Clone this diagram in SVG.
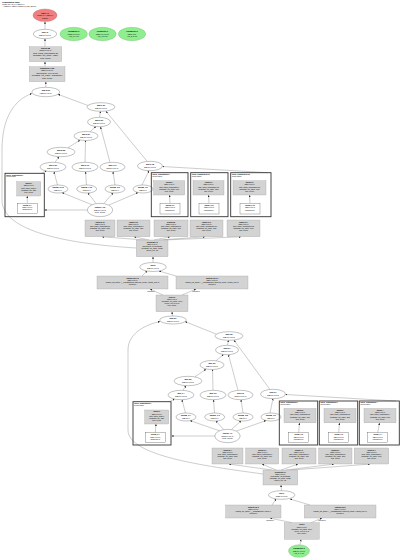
<svg xmlns="http://www.w3.org/2000/svg" width="400" height="559" viewBox="0 0 400 559">
<defs>
<marker id="ah" viewBox="0 0 10 10" refX="10" refY="5" markerWidth="2" markerHeight="2" markerUnits="userSpaceOnUse" orient="auto"><path d="M0,0L10,5L0,10z" fill="#222"/></marker>
<style>
text{font-family:"Liberation Sans",Arial,sans-serif;font-size:2px;text-anchor:middle;fill:#000}
.bd{font-weight:bold}
.st{text-anchor:start}
.sm{font-size:1.7px}
.n{fill:#fff;stroke:#333;stroke-width:0.3}
.g{fill:#d3d3d3;stroke:#999;stroke-width:0.3}
.red{fill:#f08080;stroke:#a55;stroke-width:0.3}
.grn{fill:#90ee90;stroke:#5a5;stroke-width:0.3}
.cl{fill:none;stroke:#333;stroke-width:0.9}
.e path,.e line{fill:none;stroke:#555;stroke-width:0.3;marker-end:url(#ah)}
.e .nm{marker-end:none}
</style>
</defs>
<g id="header">
<text x="2" y="2.6" class="st bd">Computation main</text>
<text x="2" y="4.6" class="st sm">%main.42 (Arg_0.1: f32[8,64])</text>
<text x="2" y="6.6" class="st sm">-&gt; (f32[8,64], f32[64]) module jit_train_step.17</text>
</g>
<g class="e" id="edges">
<line x1="45" y1="29.3" x2="45" y2="21.7"/>
<line x1="45" y1="46.7" x2="45" y2="38.8"/>
<line x1="45" y1="66.7" x2="45" y2="61.8"/>
<line x1="45.8" y1="87.3" x2="45.8" y2="81.8"/>
<line x1="88" y1="105.5" x2="58" y2="94.3"/>
<line x1="99.5" y1="117.3" x2="100.5" y2="111.4"/>
<line x1="90" y1="131.8" x2="96" y2="126.5"/>
<line x1="68" y1="147.7" x2="80" y2="140.2"/>
<line x1="55" y1="162.3" x2="59" y2="156.8"/>
<line x1="85" y1="162.3" x2="85.5" y2="140.5"/>
<line x1="110" y1="162.4" x2="100.5" y2="126.8"/>
<line x1="147" y1="161.2" x2="106" y2="111.3"/>
<line x1="57.5" y1="185" x2="54" y2="171.7"/>
<line x1="86.5" y1="185" x2="85.5" y2="171.7"/>
<line x1="115" y1="185" x2="113" y2="171.7"/>
<line x1="142" y1="185" x2="149" y2="170.7"/>
<line x1="92" y1="204.8" x2="62" y2="192.6"/>
<line x1="96" y1="203.4" x2="88" y2="193"/>
<line x1="104" y1="203.4" x2="113" y2="193"/>
<line x1="109" y1="205" x2="138" y2="192.6"/>
<line x1="87.3" y1="210" x2="44.5" y2="210"/>
<line x1="41.7" y1="173.3" x2="46.5" y2="170.8"/>
<line x1="268" y1="172.7" x2="162.5" y2="166.5"/>
<line x1="27.3" y1="203.3" x2="27.3" y2="196.1"/>
<line x1="170" y1="203.3" x2="169.5" y2="195.1"/>
<line x1="209" y1="203.3" x2="208.5" y2="195.1"/>
<line x1="250" y1="203.3" x2="249.5" y2="195.1"/>
<line x1="145" y1="240" x2="102" y2="236.8"/>
<line x1="149" y1="240" x2="134" y2="236.8"/>
<line x1="154" y1="240" x2="170" y2="236.8"/>
<line x1="159" y1="240" x2="205" y2="236.8"/>
<line x1="164" y1="240" x2="241" y2="236.8"/>
<line x1="153" y1="262.5" x2="153" y2="256.8"/>
<line x1="142" y1="276" x2="147" y2="271"/>
<line x1="176" y1="276" x2="159" y2="271"/>
<line x1="163" y1="295" x2="150" y2="289.1"/>
<line x1="182" y1="295" x2="196" y2="289.1"/>
<line x1="172.5" y1="316" x2="172" y2="311.8"/>
<path d="M136.3,248 C70,244 2,232 2,200 L2,150 C2,118 14,100 31.8,93.5"/>
<line x1="216" y1="334" x2="185" y2="321.6"/>
<line x1="227.5" y1="345.3" x2="228.5" y2="340.3"/>
<line x1="216" y1="360.8" x2="223.5" y2="354.5"/>
<line x1="195" y1="376.7" x2="206" y2="369.3"/>
<line x1="183" y1="390.3" x2="186" y2="385.7"/>
<line x1="213" y1="390.3" x2="212.5" y2="369.5"/>
<line x1="238" y1="390.3" x2="228.5" y2="354.7"/>
<line x1="270" y1="389.5" x2="234" y2="340.2"/>
<line x1="185.5" y1="413" x2="182" y2="399.7"/>
<line x1="214.5" y1="413" x2="213.5" y2="399.7"/>
<line x1="243" y1="413" x2="241" y2="399.7"/>
<line x1="270" y1="413" x2="273" y2="398.5"/>
<line x1="219.5" y1="430.8" x2="190" y2="420.6"/>
<line x1="223.5" y1="429.4" x2="216" y2="421"/>
<line x1="231.5" y1="429.4" x2="241" y2="421"/>
<line x1="236.5" y1="431" x2="266" y2="420.6"/>
<line x1="214.8" y1="436" x2="171.5" y2="436"/>
<line x1="169.7" y1="401.7" x2="174.5" y2="398.8"/>
<line x1="396" y1="401" x2="285.5" y2="394.5"/>
<line x1="155.3" y1="432.7" x2="156" y2="424.1"/>
<line x1="298.7" y1="432.7" x2="299.5" y2="422.9"/>
<line x1="338.7" y1="432.7" x2="339.5" y2="422.9"/>
<line x1="377.7" y1="432.7" x2="379.5" y2="422.9"/>
<line x1="272" y1="470" x2="229" y2="464.1"/>
<line x1="276" y1="470" x2="262" y2="464.1"/>
<line x1="281" y1="470" x2="298" y2="464.1"/>
<line x1="286" y1="470" x2="334" y2="464.1"/>
<line x1="291" y1="470" x2="370" y2="464.1"/>
<line x1="281.5" y1="490.7" x2="281" y2="485.1"/>
<line x1="272" y1="505" x2="276" y2="499"/>
<line x1="310" y1="505" x2="290" y2="499"/>
<line x1="292" y1="522.7" x2="270" y2="518.1"/>
<line x1="311" y1="522.7" x2="322" y2="518.1"/>
<line x1="300" y1="544.7" x2="301" y2="539.4"/>
<path d="M263,474 C205,466 128,456 128,430 L128,350 C128,334 144,325 160,321.5"/>
</g>
<g class="e-labels">
<text x="151" y="291.6" class="sm">operand 0</text>
<text x="196" y="291.6" class="sm">operand 1</text>
<text x="270" y="520.6" class="sm">operand 0</text>
<text x="322" y="520.6" class="sm">operand 1</text>
</g>
<g id="node-root">
<ellipse cx="45" cy="15.3" rx="12" ry="6.3" class="red"/>
<text x="45" y="13.8" class="bd">tuple.41</text>
<text x="45" y="16.2">(f32[8,64], f32[64])</text>
<text x="45" y="18.6">ROOT</text>
</g>
<g id="node-gte">
<ellipse cx="45" cy="34" rx="11.7" ry="4.7" class="n"/>
<text x="45" y="33.4" class="bd">add.40</text>
<text x="45" y="35.8">f32[8,64]{1,0}</text>
</g>
<g id="node-p0">
<ellipse cx="73.7" cy="34" rx="13.7" ry="6.7" class="grn"/>
<text x="73.7" y="32.3" class="bd">Parameter 0</text>
<text x="73.7" y="34.7">f32[8,64]{1,0}</text>
<text x="73.7" y="37.1">Arg_0.1 (in)</text>
</g>
<g id="node-p1">
<ellipse cx="102.5" cy="34" rx="13.7" ry="6.7" class="grn"/>
<text x="102.5" y="32.3" class="bd">Parameter 1</text>
<text x="102.5" y="34.7">f32[64,64]{1,0}</text>
<text x="102.5" y="37.1">Arg_1.2 (in)</text>
</g>
<g id="node-p2">
<ellipse cx="132" cy="34" rx="13.7" ry="6.7" class="grn"/>
<text x="132" y="32.3" class="bd">Parameter 2</text>
<text x="132" y="34.7">f32[64]{0}</text>
<text x="132" y="37.1">Arg_2.3 (in)</text>
</g>
<g id="node-b1">
<rect x="29.3" y="46.7" width="32.4" height="15" class="g"/>
<text x="45.5" y="49" class="bd">fusion.38</text>
<text x="45.5" y="51.4">f32[8,64]{1,0}</text>
<text x="45.5" y="53.8">calls=fused_computation.38</text>
<text x="45.5" y="56.2">metadata={op_name="add"}</text>
<text x="45.5" y="58.6">kind=kLoop</text>
</g>
<g id="node-b2">
<rect x="29.3" y="66.7" width="35.7" height="15" class="g"/>
<text x="47.1" y="69" class="bd">transpose.1.35</text>
<text x="47.1" y="71.4">f32[8,64]{1,0}</text>
<text x="47.1" y="73.8">dimensions={1,0} layout</text>
<text x="47.1" y="76.2">metadata={op_name="transpose"}</text>
<text x="47.1" y="78.6">kind=kLoop</text>
</g>
<g id="node-e1"><ellipse cx="45.8" cy="92" rx="14" ry="4.7" class="n"/><text x="45.8" y="91.4" class="bd">add.2.33</text><text x="45.8" y="93.8">f32[8,64]{1,0}</text></g>
<g id="node-e2"><ellipse cx="101" cy="107" rx="14" ry="4.3" class="n"/><text x="101" y="106.4" class="bd">add.1.31</text><text x="101" y="108.8">f32[8,64]{1,0}</text></g>
<g id="node-e3"><ellipse cx="99" cy="122" rx="11.5" ry="4.7" class="n"/><text x="99" y="121.4" class="bd">add.0.29</text><text x="99" y="123.8">f32[8,64]{1,0}</text></g>
<g id="node-e4"><ellipse cx="86" cy="136" rx="12" ry="4.5" class="n"/><text x="86" y="135.4" class="bd">mul.3.27</text><text x="86" y="137.8">f32[8,64]{1,0}</text></g>
<g id="node-e5"><ellipse cx="61" cy="152" rx="14" ry="4.7" class="n"/><text x="61" y="151.4" class="bd">mul.2.25</text><text x="61" y="153.8">f32[8,64]{1,0}</text></g>
<g id="node-a1"><ellipse cx="53" cy="167" rx="13" ry="4.7" class="n"/><text x="53" y="166.4" class="bd">mul.1.21</text><text x="53" y="168.8">f32[8,64]{1,0}</text></g>
<g id="node-a2"><ellipse cx="85" cy="167" rx="13" ry="4.7" class="n"/><text x="85" y="166.4" class="bd">mul.0.19</text><text x="85" y="168.8">f32[8,64]{1,0}</text></g>
<g id="node-a3"><ellipse cx="112.5" cy="167" rx="12.5" ry="4.7" class="n"/><text x="112.5" y="166.4" class="bd">sub.1.17</text><text x="112.5" y="168.8">f32[8,64]{1,0}</text></g>
<g id="node-a4"><ellipse cx="150" cy="166" rx="12.5" ry="4.7" class="n"/><text x="150" y="165.4" class="bd">sub.0.15</text><text x="150" y="167.8">f32[8,64]{1,0}</text></g>
<g id="node-r1"><ellipse cx="58" cy="189" rx="10" ry="4" class="n"/><text x="58" y="188.4" class="bd">param_0.13</text><text x="58" y="190.8">f32[8,64]</text></g>
<g id="node-r2"><ellipse cx="86.7" cy="189" rx="10" ry="4" class="n"/><text x="86.7" y="188.4" class="bd">param_1.11</text><text x="86.7" y="190.8">f32[8,64]</text></g>
<g id="node-r3"><ellipse cx="115" cy="189" rx="10" ry="4" class="n"/><text x="115" y="188.4" class="bd">param_2.9</text><text x="115" y="190.8">f32[8,64]</text></g>
<g id="node-r4"><ellipse cx="143" cy="189" rx="10" ry="4" class="n"/><text x="143" y="188.4" class="bd">param_3.7</text><text x="143" y="190.8">f32[8,64]</text></g>
<g id="node-e6"><ellipse cx="100" cy="210" rx="12.7" ry="6.7" class="n"/><text x="100" y="208.3" class="bd">fusion.4.13</text><text x="100" y="210.7">f32[8,64]{1,0}</text><text x="100" y="213.1">kind=kLoop</text></g>
<g id="cluster-1">
<rect x="5" y="173.3" width="39.3" height="43.4" class="cl"/>
<text x="6.2" y="175.6" class="st sm bd">fused_computation.7</text>
<text x="6.2" y="177.4" class="st sm">kLoop fusion</text>
<rect x="16.7" y="181.7" width="24" height="14.3" class="g"/>
<text x="28.7" y="184.1" class="sm bd">fusion.7</text><text x="28.7" y="186.3" class="sm">f32[8,64]{1,0}</text><text x="28.7" y="188.5" class="sm">calls=fused_comp.7</text><text x="28.7" y="190.7" class="sm">metadata={op=add}</text><text x="28.7" y="192.9" class="sm">kind=kLoop</text>
<rect x="17.3" y="203.3" width="20" height="10" class="n"/>
<text x="27.3" y="206" class="sm bd">param_0.7</text><text x="27.3" y="208.2" class="sm">f32[8,64]{1,0}</text><text x="27.3" y="210.4" class="sm">parameter(0)</text>
</g>
<g id="cluster-2">
<rect x="151.3" y="172.7" width="36.7" height="44" class="cl"/>
<text x="152.5" y="175" class="st sm bd">fused_computation.9</text>
<text x="152.5" y="176.8" class="st sm">kLoop fusion</text>
<rect x="153.7" y="180.7" width="31" height="14.3" class="g"/>
<text x="169.2" y="183.1" class="sm bd">fusion.9</text><text x="169.2" y="185.3" class="sm">f32[8,64]{1,0}</text><text x="169.2" y="187.5" class="sm">calls=fused_computation.9</text><text x="169.2" y="189.7" class="sm">metadata={op_name=mul}</text><text x="169.2" y="191.9" class="sm">kind=kLoop</text>
<rect x="160" y="203.3" width="20" height="10.7" class="n"/>
<text x="170" y="206.1" class="sm bd">param_0.9</text><text x="170" y="208.3" class="sm">f32[8,64]{1,0}</text><text x="170" y="210.5" class="sm">parameter(0)</text>
</g>
<g id="cluster-3">
<rect x="190.7" y="172.7" width="37.3" height="44" class="cl"/>
<text x="191.9" y="175" class="st sm bd">fused_computation.11</text>
<text x="191.9" y="176.8" class="st sm">kLoop fusion</text>
<rect x="193" y="180.7" width="31" height="14.3" class="g"/>
<text x="208.5" y="183.1" class="sm bd">fusion.11</text><text x="208.5" y="185.3" class="sm">f32[8,64]{1,0}</text><text x="208.5" y="187.5" class="sm">calls=fused_computation.11</text><text x="208.5" y="189.7" class="sm">metadata={op_name=sub}</text><text x="208.5" y="191.9" class="sm">kind=kLoop</text>
<rect x="199" y="203.3" width="20" height="10.7" class="n"/>
<text x="209" y="206.1" class="sm bd">param_0.11</text><text x="209" y="208.3" class="sm">f32[8,64]{1,0}</text><text x="209" y="210.5" class="sm">parameter(0)</text>
</g>
<g id="cluster-4">
<rect x="230.7" y="172.7" width="40.3" height="44" class="cl"/>
<text x="231.9" y="175" class="st sm bd">fused_computation.13</text>
<text x="231.9" y="176.8" class="st sm">kLoop fusion</text>
<rect x="233" y="180.7" width="33" height="14.3" class="g"/>
<text x="249.5" y="183.1" class="sm bd">fusion.13</text><text x="249.5" y="185.3" class="sm">f32[8,64]{1,0}</text><text x="249.5" y="187.5" class="sm">calls=fused_computation.13</text><text x="249.5" y="189.7" class="sm">metadata={op_name=neg}</text><text x="249.5" y="191.9" class="sm">kind=kLoop</text>
<rect x="240" y="203.3" width="20" height="10.7" class="n"/>
<text x="250" y="206.1" class="sm bd">param_0.13</text><text x="250" y="208.3" class="sm">f32[8,64]{1,0}</text><text x="250" y="210.5" class="sm">parameter(0)</text>
</g>
<g id="node-g1"><rect x="85" y="220" width="30" height="16.7" class="g"/><text x="100" y="222.6" class="sm bd">fusion.5.12</text><text x="100" y="224.8" class="sm">f32[8,64]{1,0}</text><text x="100" y="227" class="sm">calls=fused_computation.5</text><text x="100" y="229.2" class="sm">metadata={op_name=add}</text><text x="100" y="231.4" class="sm">kind=kLoop</text></g>
<g id="node-g2"><rect x="117" y="220" width="33" height="16.7" class="g"/><text x="133.5" y="222.6" class="sm bd">fusion.6.10</text><text x="133.5" y="224.8" class="sm">f32[8,64]{1,0}</text><text x="133.5" y="227" class="sm">calls=fused_computation.6</text><text x="133.5" y="229.2" class="sm">metadata={op_name=mul}</text><text x="133.5" y="231.4" class="sm">kind=kLoop</text></g>
<g id="node-g3"><rect x="154" y="220" width="34" height="16.7" class="g"/><text x="171" y="222.6" class="sm bd">fusion.8.8</text><text x="171" y="224.8" class="sm">f32[8,64]{1,0}</text><text x="171" y="227" class="sm">calls=fused_computation.8</text><text x="171" y="229.2" class="sm">metadata={op_name=mul}</text><text x="171" y="231.4" class="sm">kind=kLoop</text></g>
<g id="node-g4"><rect x="190" y="220" width="33" height="16.7" class="g"/><text x="206.5" y="222.6" class="sm bd">fusion.10.6</text><text x="206.5" y="224.8" class="sm">f32[8,64]{1,0}</text><text x="206.5" y="227" class="sm">calls=fused_computation.10</text><text x="206.5" y="229.2" class="sm">metadata={op_name=sub}</text><text x="206.5" y="231.4" class="sm">kind=kLoop</text></g>
<g id="node-g5"><rect x="227" y="220" width="33" height="16.7" class="g"/><text x="243.5" y="222.6" class="sm bd">fusion.12.4</text><text x="243.5" y="224.8" class="sm">f32[8,64]{1,0}</text><text x="243.5" y="227" class="sm">calls=fused_computation.12</text><text x="243.5" y="229.2" class="sm">metadata={op_name=neg}</text><text x="243.5" y="231.4" class="sm">kind=kLoop</text></g>
<g id="node-s1"><rect x="136.3" y="240" width="31.7" height="16.7" class="g"/><text x="152.2" y="242.6" class="sm bd">broadcast.1.3</text><text x="152.2" y="244.8" class="sm">f32[8,64]{1,0}</text><text x="152.2" y="247" class="sm">dimensions={1} broadcast</text><text x="152.2" y="249.2" class="sm">metadata={op_name=bcast}</text><text x="152.2" y="251.4" class="sm">source_line=88</text></g>
<g id="node-e7"><ellipse cx="153" cy="267" rx="13.3" ry="4.5" class="n"/><text x="153" y="266.4" class="bd">dot.2</text><text x="153" y="268.8">f32[8,64]{1,0}</text></g>
<g id="node-w1"><rect x="97" y="276" width="71" height="13" class="g"/><text x="132.5" y="278.6" class="sm bd">custom-call.1.2</text><text x="132.5" y="280.8" class="sm">f32[8,64]{1,0}</text><text x="132.5" y="283" class="sm">custom_call_target="__cublas$gemm" backend_config={"alpha_real":1}</text><text x="132.5" y="285.2" class="sm">operand 0</text></g>
<g id="node-w2"><rect x="176" y="276" width="72" height="13" class="g"/><text x="212" y="278.6" class="sm bd">custom-call.0.1</text><text x="212" y="280.8" class="sm">f32[64,64]{1,0}</text><text x="212" y="283" class="sm">custom_call_target="__cublas$gemm" backend_config={"alpha_real":1}</text><text x="212" y="285.2" class="sm">operand 1</text></g>
<g id="node-b3"><rect x="156" y="295" width="32" height="16.7" class="g"/><text x="172" y="297.6" class="sm bd">copy.1.0</text><text x="172" y="299.8" class="sm">f32[8,64]{1,0}</text><text x="172" y="302" class="sm">metadata={op_name=copy}</text><text x="172" y="304.2" class="sm">layout={1,0} to {0,1}</text><text x="172" y="306.4" class="sm">kind=kCopy</text></g>
<g id="node-e8"><ellipse cx="173" cy="320" rx="13.3" ry="4" class="n"/><text x="173" y="319.4" class="bd">add.2.9</text><text x="173" y="321.8">f32[8,64]{1,0}</text></g>
<g id="node-e2b"><ellipse cx="229" cy="336" rx="14" ry="4.3" class="n"/><text x="229" y="335.4" class="bd">add.1.8</text><text x="229" y="337.8">f32[8,64]{1,0}</text></g>
<g id="node-e3b"><ellipse cx="227" cy="350" rx="11.5" ry="4.7" class="n"/><text x="227" y="349.4" class="bd">add.0.7</text><text x="227" y="351.8">f32[8,64]{1,0}</text></g>
<g id="node-e4b"><ellipse cx="212" cy="365" rx="12" ry="4.5" class="n"/><text x="212" y="364.4" class="bd">mul.3.6</text><text x="212" y="366.8">f32[8,64]{1,0}</text></g>
<g id="node-e5b"><ellipse cx="188" cy="381" rx="14" ry="4.7" class="n"/><text x="188" y="380.4" class="bd">mul.2.5</text><text x="188" y="382.8">f32[8,64]{1,0}</text></g>
<g id="node-a1b"><ellipse cx="181" cy="395" rx="13" ry="4.7" class="n"/><text x="181" y="394.4" class="bd">mul.1.4</text><text x="181" y="396.8">f32[8,64]{1,0}</text></g>
<g id="node-a2b"><ellipse cx="213" cy="395" rx="13" ry="4.7" class="n"/><text x="213" y="394.4" class="bd">mul.0.3</text><text x="213" y="396.8">f32[8,64]{1,0}</text></g>
<g id="node-a3b"><ellipse cx="240.5" cy="395" rx="12.5" ry="4.7" class="n"/><text x="240.5" y="394.4" class="bd">sub.1.2</text><text x="240.5" y="396.8">f32[8,64]{1,0}</text></g>
<g id="node-a4b"><ellipse cx="273" cy="394" rx="12.5" ry="4.7" class="n"/><text x="273" y="393.4" class="bd">sub.0.1</text><text x="273" y="395.8">f32[8,64]{1,0}</text></g>
<g id="node-r1b"><ellipse cx="186" cy="417" rx="10" ry="4" class="n"/><text x="186" y="416.4" class="bd">param_0.4</text><text x="186" y="418.8">f32[8,64]</text></g>
<g id="node-r2b"><ellipse cx="214.7" cy="417" rx="10" ry="4" class="n"/><text x="214.7" y="416.4" class="bd">param_1.3</text><text x="214.7" y="418.8">f32[8,64]</text></g>
<g id="node-r3b"><ellipse cx="243" cy="417" rx="10" ry="4" class="n"/><text x="243" y="416.4" class="bd">param_2.2</text><text x="243" y="418.8">f32[8,64]</text></g>
<g id="node-r4b"><ellipse cx="271" cy="417" rx="10" ry="4" class="n"/><text x="271" y="416.4" class="bd">param_3.1</text><text x="271" y="418.8">f32[8,64]</text></g>
<g id="node-e6b"><ellipse cx="227.5" cy="436" rx="12.7" ry="6.7" class="n"/><text x="227.5" y="434.3" class="bd">fusion.4.1</text><text x="227.5" y="436.7">f32[8,64]{1,0}</text><text x="227.5" y="439.1">kind=kLoop</text></g>
<g id="cluster-5">
<rect x="133" y="401.7" width="38" height="43.3" class="cl"/>
<text x="134.2" y="404" class="st sm bd">fused_computation.1</text>
<text x="134.2" y="405.8" class="st sm">kLoop fusion</text>
<rect x="144.7" y="410" width="24" height="14" class="g"/>
<text x="156.7" y="412.4" class="sm bd">fusion.1</text><text x="156.7" y="414.6" class="sm">f32[8,64]{1,0}</text><text x="156.7" y="416.8" class="sm">calls=fused_comp.1</text><text x="156.7" y="419" class="sm">metadata={op=add}</text><text x="156.7" y="421.2" class="sm">kind=kLoop</text>
<rect x="145.3" y="432.7" width="20" height="10" class="n"/>
<text x="155.3" y="435.4" class="sm bd">param_0.1</text><text x="155.3" y="437.6" class="sm">f32[8,64]{1,0}</text><text x="155.3" y="439.8" class="sm">parameter(0)</text>
</g>
<g id="cluster-6">
<rect x="279.3" y="401" width="38.4" height="44" class="cl"/>
<text x="280.5" y="403.3" class="st sm bd">fused_computation.2</text>
<text x="280.5" y="405.1" class="st sm">kLoop fusion</text>
<rect x="284" y="408.5" width="32" height="14.3" class="g"/>
<text x="300" y="410.9" class="sm bd">fusion.2</text><text x="300" y="413.1" class="sm">f32[8,64]{1,0}</text><text x="300" y="415.3" class="sm">calls=fused_computation.2</text><text x="300" y="417.5" class="sm">metadata={op_name=mul}</text><text x="300" y="419.7" class="sm">kind=kLoop</text>
<rect x="288.7" y="432.7" width="20" height="10" class="n"/>
<text x="298.7" y="435.4" class="sm bd">param_0.2</text><text x="298.7" y="437.6" class="sm">f32[8,64]{1,0}</text><text x="298.7" y="439.8" class="sm">parameter(0)</text>
</g>
<g id="cluster-7">
<rect x="319.3" y="401" width="38.4" height="44" class="cl"/>
<text x="320.5" y="403.3" class="st sm bd">fused_computation.3</text>
<text x="320.5" y="405.1" class="st sm">kLoop fusion</text>
<rect x="324" y="408.5" width="32" height="14.3" class="g"/>
<text x="340" y="410.9" class="sm bd">fusion.3</text><text x="340" y="413.1" class="sm">f32[8,64]{1,0}</text><text x="340" y="415.3" class="sm">calls=fused_computation.3</text><text x="340" y="417.5" class="sm">metadata={op_name=sub}</text><text x="340" y="419.7" class="sm">kind=kLoop</text>
<rect x="328.7" y="432.7" width="20" height="10" class="n"/>
<text x="338.7" y="435.4" class="sm bd">param_0.3</text><text x="338.7" y="437.6" class="sm">f32[8,64]{1,0}</text><text x="338.7" y="439.8" class="sm">parameter(0)</text>
</g>
<g id="cluster-8">
<rect x="359.3" y="401" width="40" height="44" class="cl"/>
<text x="360.5" y="403.3" class="st sm bd">fused_computation.4</text>
<text x="360.5" y="405.1" class="st sm">kLoop fusion</text>
<rect x="364" y="408.5" width="32" height="14.3" class="g"/>
<text x="380" y="410.9" class="sm bd">fusion.4</text><text x="380" y="413.1" class="sm">f32[8,64]{1,0}</text><text x="380" y="415.3" class="sm">calls=fused_computation.4</text><text x="380" y="417.5" class="sm">metadata={op_name=neg}</text><text x="380" y="419.7" class="sm">kind=kLoop</text>
<rect x="367.7" y="432.7" width="20" height="10" class="n"/>
<text x="377.7" y="435.4" class="sm bd">param_0.4</text><text x="377.7" y="437.6" class="sm">f32[8,64]{1,0}</text><text x="377.7" y="439.8" class="sm">parameter(0)</text>
</g>
<g id="node-g1b"><rect x="212" y="448" width="31" height="16" class="g"/><text x="227.5" y="450.6" class="sm bd">fusion.5.1</text><text x="227.5" y="452.8" class="sm">f32[8,64]{1,0}</text><text x="227.5" y="455" class="sm">calls=fused_computation.5</text><text x="227.5" y="457.2" class="sm">metadata={op_name=add}</text><text x="227.5" y="459.4" class="sm">kind=kLoop</text></g>
<g id="node-g2b"><rect x="245.7" y="448" width="33" height="16" class="g"/><text x="262.2" y="450.6" class="sm bd">fusion.6.1</text><text x="262.2" y="452.8" class="sm">f32[8,64]{1,0}</text><text x="262.2" y="455" class="sm">calls=fused_computation.6</text><text x="262.2" y="457.2" class="sm">metadata={op_name=mul}</text><text x="262.2" y="459.4" class="sm">kind=kLoop</text></g>
<g id="node-g3b"><rect x="282" y="448" width="34" height="16" class="g"/><text x="299" y="450.6" class="sm bd">fusion.7.1</text><text x="299" y="452.8" class="sm">f32[8,64]{1,0}</text><text x="299" y="455" class="sm">calls=fused_computation.7</text><text x="299" y="457.2" class="sm">metadata={op_name=mul}</text><text x="299" y="459.4" class="sm">kind=kLoop</text></g>
<g id="node-g4b"><rect x="318.7" y="448" width="33.3" height="16" class="g"/><text x="335.3" y="450.6" class="sm bd">fusion.8.1</text><text x="335.3" y="452.8" class="sm">f32[8,64]{1,0}</text><text x="335.3" y="455" class="sm">calls=fused_computation.8</text><text x="335.3" y="457.2" class="sm">metadata={op_name=sub}</text><text x="335.3" y="459.4" class="sm">kind=kLoop</text></g>
<g id="node-g5b"><rect x="354.3" y="448" width="34.4" height="16" class="g"/><text x="371.5" y="450.6" class="sm bd">fusion.9.1</text><text x="371.5" y="452.8" class="sm">f32[8,64]{1,0}</text><text x="371.5" y="455" class="sm">calls=fused_computation.9</text><text x="371.5" y="457.2" class="sm">metadata={op_name=neg}</text><text x="371.5" y="459.4" class="sm">kind=kLoop</text></g>
<g id="node-s1b"><rect x="263" y="470" width="34.7" height="15" class="g"/><text x="280.3" y="472.5" class="sm bd">broadcast.0.1</text><text x="280.3" y="474.7" class="sm">f32[8,64]{1,0}</text><text x="280.3" y="476.9" class="sm">dimensions={1} broadcast</text><text x="280.3" y="479.1" class="sm">metadata={op_name=bcast}</text><text x="280.3" y="481.3" class="sm">source_line=88</text></g>
<g id="node-e7b"><ellipse cx="281.7" cy="495" rx="13.3" ry="4.3" class="n"/><text x="281.7" y="494.4" class="bd">dot.1</text><text x="281.7" y="496.8">f32[8,64]{1,0}</text></g>
<g id="node-w1b"><rect x="225.7" y="505" width="55.3" height="13" class="g"/><text x="253.3" y="507.6" class="sm bd">custom-call.3</text><text x="253.3" y="509.8" class="sm">f32[8,64]{1,0}</text><text x="253.3" y="512" class="sm">custom_call_target="__cublas$gemm" config={}</text><text x="253.3" y="514.2" class="sm">operand 0</text></g>
<g id="node-w2b"><rect x="304.3" y="505" width="71.7" height="13" class="g"/><text x="340.1" y="507.6" class="sm bd">custom-call.2</text><text x="340.1" y="509.8" class="sm">f32[64,64]{1,0}</text><text x="340.1" y="512" class="sm">custom_call_target="__cublas$gemm" backend_config={"alpha_real":1}</text><text x="340.1" y="514.2" class="sm">operand 1</text></g>
<g id="node-b3b"><rect x="284.3" y="522.7" width="35" height="16.6" class="g"/><text x="301.8" y="525.3" class="sm bd">copy.0</text><text x="301.8" y="527.5" class="sm">f32[8,64]{1,0}</text><text x="301.8" y="529.7" class="sm">metadata={op_name=copy}</text><text x="301.8" y="531.9" class="sm">layout={1,0} to {0,1}</text><text x="301.8" y="534.1" class="sm">kind=kCopy</text></g>
<g id="node-p3">
<ellipse cx="299" cy="551" rx="10.5" ry="6.3" class="grn"/>
<text x="299" y="549.4" class="bd">Parameter 3</text>
<text x="299" y="551.8">f32[8,64]{1,0}</text>
<text x="299" y="554.2">Arg_3.4 (in)</text>
</g>
</svg>
